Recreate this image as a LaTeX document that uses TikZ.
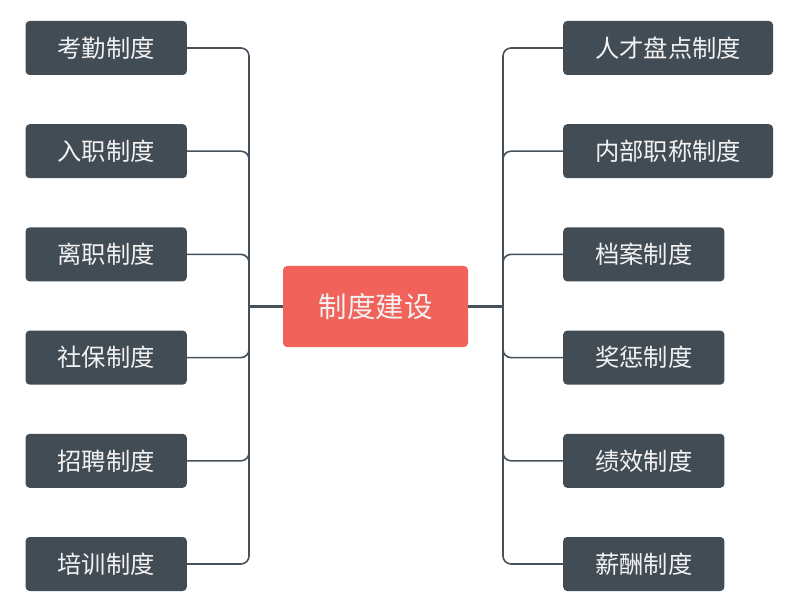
\documentclass[tikz,border=0pt]{standalone}
\usepackage{fontspec}
\setmainfont{Noto Sans CJK SC}
\usepackage{tikz}

\definecolor{topicred}{HTML}{F0625A}
\definecolor{subdark}{HTML}{424C55}
\definecolor{linegray}{HTML}{47515A}
\definecolor{textwhite}{HTML}{F2F2F2}

\tikzset{
    topic/.style={rectangle,rounded corners=4pt,fill=topicred,text=textwhite,
        minimum width=185pt,minimum height=81pt,inner sep=0pt,
        font=\fontsize{28.5pt}{32pt}\selectfont},
    sub/.style={rectangle,rounded corners=4pt,fill=subdark,text=textwhite,
        minimum height=54pt,inner xsep=32pt,inner ysep=0pt,
        font=\fontsize{24.3pt}{28pt}\selectfont},
    stem/.style={draw=linegray,line width=2.6pt},
    branch/.style={draw=linegray,line width=1.6pt,rounded corners=8pt,
        to path={|- (\tikztotarget)}}
}

\begin{document}
\begin{tikzpicture}[x=1pt,y=-1pt]
        \useasboundingbox (0,0) rectangle (800,612);

        \node[topic] at (375.5,306.5) (zd) {制度建设};

        \node[sub,anchor=east] at (187,48) (kq) {考勤制度};
        \node[sub,anchor=east] at (187,151.2) (rz) {入职制度};
        \node[sub,anchor=east] at (187,254.4) (lz) {离职制度};
        \node[sub,anchor=east] at (187,357.6) (sb) {社保制度};
        \node[sub,anchor=east] at (187,460.8) (zp) {招聘制度};
        \node[sub,anchor=east] at (187,564) (px) {培训制度};

        \node[sub,anchor=west] at (563,48) (rc) {人才盘点制度};
        \node[sub,anchor=west] at (563,151.2) (zc) {内部职称制度};
        \node[sub,anchor=west] at (563,254.4) (da) {档案制度};
        \node[sub,anchor=west] at (563,357.6) (jc) {奖惩制度};
        \node[sub,anchor=west] at (563,460.8) (jx) {绩效制度};
        \node[sub,anchor=west] at (563,564) (xc) {薪酬制度};

        \coordinate (lbus) at (249,306.5);
        \coordinate (rbus) at (503,306.5);

        \path[stem] (zd.west) -- (lbus);
        \path[stem] (zd.east) -- (rbus);

        \path[branch]
        (lbus) edge (kq.east)
        (lbus) edge (rz.east)
        (lbus) edge (lz.east)
        (lbus) edge (sb.east)
        (lbus) edge (zp.east)
        (lbus) edge (px.east)

        (rbus) edge (rc.west)
        (rbus) edge (zc.west)
        (rbus) edge (da.west)
        (rbus) edge (jc.west)
        (rbus) edge (jx.west)
        (rbus) edge (xc.west);

    \end{tikzpicture}
\end{document}
